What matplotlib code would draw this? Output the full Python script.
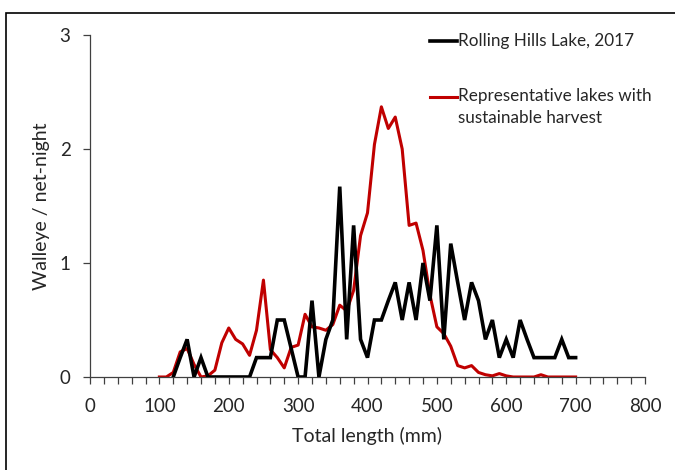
import matplotlib
matplotlib.use("Agg")
import matplotlib.pyplot as plt
from matplotlib.patches import Rectangle
from matplotlib.ticker import MultipleLocator
import numpy as np

plt.rcParams['font.family'] = ['Lato', 'DejaVu Sans']

# Rolling Hills Lake, 2017 (10-mm length groups)
rh_length = [120, 130, 140, 150, 160, 170, 180, 190, 200, 210, 220, 230, 240, 250, 260,
             270, 280, 290, 300, 310, 320, 330, 340, 350, 360, 370, 380, 390, 400, 410,
             420, 430, 440, 450, 460, 470, 480, 490, 500, 510, 520, 530, 540, 550, 560,
             570, 580, 590, 600, 610, 620, 630, 640, 650, 660, 670, 680, 690, 700]
rh_cpue = [0, 0.17, 0.33, 0, 0.17, 0, 0, 0, 0, 0, 0, 0, 0.17, 0.17, 0.17,
           0.5, 0.5, 0.25, 0, 0, 0.67, 0, 0.33, 0.5, 1.67, 0.33, 1.33, 0.33, 0.17, 0.5,
           0.5, 0.67, 0.83, 0.5, 0.83, 0.5, 1.0, 0.67, 1.33, 0.33, 1.17, 0.83, 0.5, 0.83, 0.67,
           0.33, 0.5, 0.17, 0.33, 0.17, 0.5, 0.33, 0.17, 0.17, 0.17, 0.17, 0.33, 0.17, 0.17]

# Representative lakes with sustainable harvest
rep_length = [100, 110, 120, 130, 140, 150, 160, 170, 180, 190, 200, 210, 220, 230, 240,
              250, 260, 270, 280, 290, 300, 310, 320, 330, 340, 350, 360, 370, 380, 390,
              400, 410, 420, 430, 440, 450, 460, 470, 480, 490, 500, 510, 520, 530, 540,
              550, 560, 570, 580, 590, 600, 610, 620, 630, 640, 650, 660, 670, 680, 690, 700]
rep_cpue = [0, 0, 0.04, 0.22, 0.25, 0.11, 0, 0.01, 0.06, 0.3, 0.43, 0.33, 0.29, 0.19, 0.41,
            0.85, 0.24, 0.17, 0.08, 0.26, 0.28, 0.55, 0.44, 0.43, 0.41, 0.46, 0.63, 0.58, 0.76, 1.24,
            1.44, 2.04, 2.37, 2.18, 2.28, 2.0, 1.33, 1.35, 1.11, 0.72, 0.44, 0.38, 0.27, 0.1, 0.08,
            0.1, 0.04, 0.02, 0.01, 0.03, 0.01, 0, 0, 0, 0, 0.02, 0, 0, 0, 0, 0]

labels = ["Rolling Hills Lake, 2017", "Representative lakes with\nsustainable harvest"]
x_ticks = [0, 100, 200, 300, 400, 500, 600, 700, 800]
y_ticks = [0, 1, 2, 3]

W, H = 675, 470
fig = plt.figure(figsize=(W / 100, H / 100), dpi=100)
ax = fig.add_axes([90 / W, 1 - 377 / H, 555 / W, 342 / H])

black = "#000000"
red = "#C00000"
txt = "#262626"

ax.plot(rh_length, rh_cpue, color=black, lw=2.6, solid_joinstyle='miter', zorder=3)
ax.plot(rep_length, rep_cpue, color=red, lw=2.2, solid_joinstyle='round', zorder=2)

ax.set_xlim(0, 800)
ax.set_ylim(0, 3)
ax.set_xticks(x_ticks)
ax.xaxis.set_minor_locator(MultipleLocator(20))
ax.set_yticks(y_ticks)
ax.tick_params(axis='both', which='both', direction='out', length=5, width=0.9,
               color='#404040', labelsize=13.5, labelcolor=txt)
ax.tick_params(axis='x', pad=10)
ax.tick_params(axis='y', pad=9)
for s in ['top', 'right']:
    ax.spines[s].set_visible(False)
for s in ['left', 'bottom']:
    ax.spines[s].set_color('#404040')
    ax.spines[s].set_linewidth(0.9)

ax.set_xlabel("Total length (mm)", fontsize=14, color=txt, labelpad=9)
ax.set_ylabel("Walleye / net-night", fontsize=14, color=txt, labelpad=7)

# manual legend
hx0, hx1 = (430 - 90) / 555, (457 - 90) / 555
tx = (458 - 90) / 555
y1 = (377 - 41) / 342
y2 = (377 - 97) / 342
ax.plot([hx0, hx1], [y1, y1], color=black, lw=2.6, transform=ax.transAxes, clip_on=False)
ax.plot([hx0, hx1], [y2, y2], color=red, lw=2.2, transform=ax.transAxes, clip_on=False)
ax.text(tx, y1, labels[0], transform=ax.transAxes, fontsize=12.3, color=txt,
        va='center', ha='left')
ax.text(tx, y2 + 0.027, labels[1], transform=ax.transAxes, fontsize=12.3, color=txt,
        va='top', ha='left', linespacing=1.5)

# outer frame
fig.add_artist(Rectangle((6 / W, -0.05), 1.1, 1 - 13 / H + 0.05, transform=fig.transFigure,
                         fill=False, edgecolor='black', lw=1.2))

fig.savefig("out.png", dpi=100)
